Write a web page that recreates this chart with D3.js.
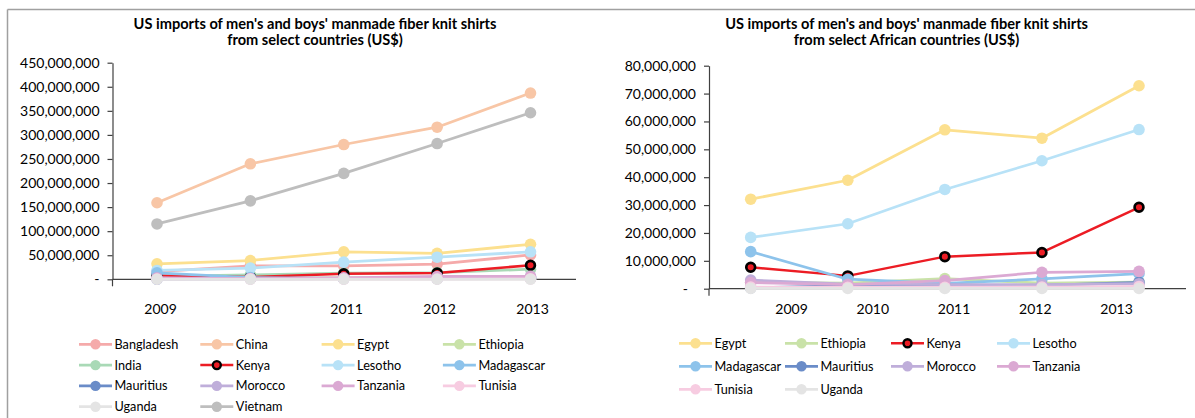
<!DOCTYPE html>
<html>
<head>
<meta charset="utf-8">
<script src="https://cdn.jsdelivr.net/npm/d3@7"></script>
<style>
  html, body { margin: 0; padding: 0; background: #fff; }
  svg { display: block; font-family: Lato, "Open Sans", sans-serif; }
</style>
</head>
<body>
<svg id="chart" width="1195" height="418"></svg>
<script>
// ---------- DATA ----------
const years = ["2009", "2010", "2011", "2012", "2013"];

const bangladesh = [16e6, 28e6, 28e6, 31.5e6, 50.5e6];
const china      = [159e6, 240e6, 280e6, 316e6, 387e6];
const egypt      = [32.1e6, 38.9e6, 57.0e6, 54.0e6, 72.8e6];
const ethiopia   = [2.3e6, 2.0e6, 3.6e6, 2.0e6, 2.4e6];
const india      = [6e6, 9e6, 13e6, 14e6, 21e6];
const kenya      = [7.7e6, 4.6e6, 11.5e6, 13.0e6, 29.2e6];
const lesotho    = [18.4e6, 23.3e6, 35.6e6, 45.9e6, 57.1e6];
const madagascar = [13.3e6, 3.4e6, 1.9e6, 3.5e6, 5.4e6];
const mauritius  = [0.3e6, 1.1e6, 1.3e6, 1.2e6, 2.3e6];
const morocco    = [3.1e6, 1.6e6, 1.5e6, 1.5e6, 1.8e6];
const tanzania   = [2.2e6, 1.5e6, 2.9e6, 5.9e6, 6.2e6];
const tunisia    = [0.6e6, 0.5e6, 0.5e6, 0.6e6, 0.8e6];
const uganda     = [0.1e6, 0.1e6, 0.1e6, 0.1e6, 0.1e6];
const vietnam    = [115e6, 163e6, 220e6, 282e6, 346e6];

const leftCountries  = ["Bangladesh","China","Egypt","Ethiopia","India","Kenya","Lesotho","Madagascar","Mauritius","Morocco","Tanzania","Tunisia","Uganda","Vietnam"];
const rightCountries = ["Egypt","Ethiopia","Kenya","Lesotho","Madagascar","Mauritius","Morocco","Tanzania","Tunisia","Uganda"];

const leftTicks  = [0, 50e6, 100e6, 150e6, 200e6, 250e6, 300e6, 350e6, 400e6, 450e6];
const rightTicks = [0, 10e6, 20e6, 30e6, 40e6, 50e6, 60e6, 70e6, 80e6];

const leftTitle  = ["US imports of men's and boys' manmade fiber knit shirts", "from select countries (US$)"];
const rightTitle = ["US imports of men's and boys' manmade fiber knit shirts", "from select African countries (US$)"];

// lookup table built from the arrays
const seriesValues = {
  Bangladesh: bangladesh, China: china, Egypt: egypt, Ethiopia: ethiopia, India: india,
  Kenya: kenya, Lesotho: lesotho, Madagascar: madagascar, Mauritius: mauritius,
  Morocco: morocco, Tanzania: tanzania, Tunisia: tunisia, Uganda: uganda, Vietnam: vietnam
};

const colors = {
  Bangladesh: "#F5AAAA", China: "#F8C6A6", Egypt: "#FCE08F", Ethiopia: "#C9E2A8",
  India: "#A9D9B6", Kenya: "#EC1C24", Lesotho: "#B8E2F7", Madagascar: "#8DC3EB",
  Mauritius: "#6A8CC8", Morocco: "#BFAEDA", Tanzania: "#DBA9D3", Tunisia: "#F7CCE1",
  Uganda: "#E4E4E4", Vietnam: "#BEBEBE"
};

// ---------- DRAW ----------
const svg = d3.select("#chart");

// outer frame (top + left)
svg.append("line").attr("x1", 7.5).attr("x2", 1195).attr("y1", 9.5).attr("y2", 9.5)
  .attr("stroke", "#a0a0a0").attr("stroke-width", 1.5);
svg.append("line").attr("x1", 7.5).attr("x2", 7.5).attr("y1", 9.5).attr("y2", 418)
  .attr("stroke", "#a0a0a0").attr("stroke-width", 1.5);

function drawChart(cfg) {
  const g = svg.append("g");
  const x = d3.scalePoint().domain(years).range(cfg.xRange);
  const xl = d3.scalePoint().domain(years).range(cfg.labelRange);
  const y = d3.scaleLinear().domain(cfg.yDomain).range(cfg.yRange);

  // title
  const t = g.append("text").attr("x", cfg.titleX).attr("y", 29)
    .attr("text-anchor", "middle").attr("font-weight", "bold")
    .attr("font-size", 14.6).attr("fill", "#000");
  cfg.title.forEach((line, i) => {
    t.append("tspan").attr("x", cfg.titleX).attr("dy", i === 0 ? 0 : 16).text(line);
  });

  // y axis
  const fmt = d3.format(",");
  const yAxis = d3.axisLeft(y).tickValues(cfg.ticks).tickSize(5).tickSizeOuter(0).tickPadding(8)
    .tickFormat(d => d === 0 ? "-" : fmt(d));
  const ya = g.append("g").attr("transform", `translate(${cfg.axisX},0)`).call(yAxis);
  ya.select(".domain").attr("stroke", "#404040").attr("stroke-width", 1.2);
  ya.selectAll(".tick line").attr("stroke", "#404040").attr("stroke-width", 1.2);
  ya.selectAll(".tick text").attr("font-size", 14).attr("fill", "#000")
    .attr("font-family", "Lato, sans-serif")
    .attr("dx", d => d === 0 ? cfg.zeroDx : 0);
  // axis line extends a little under the category axis
  g.append("line").attr("x1", cfg.axisX).attr("x2", cfg.axisX)
    .attr("y1", y(0)).attr("y2", y(0) + 7).attr("stroke", "#404040").attr("stroke-width", 1.2);

  // x axis line
  g.append("line").attr("x1", cfg.axisX).attr("x2", cfg.axisEnd)
    .attr("y1", y(0)).attr("y2", y(0)).attr("stroke", "#404040").attr("stroke-width", 1.2);

  // category labels
  const xAxis = d3.axisBottom(xl).tickSize(0).tickPadding(0);
  const xa = g.append("g").attr("transform", `translate(0,${cfg.labelY})`).call(xAxis);
  xa.select(".domain").remove();
  xa.selectAll(".tick text").attr("font-size", 14).attr("fill", "#000")
    .attr("font-family", "Lato, sans-serif").attr("dy", "0.35em");

  // series
  const line = d3.line().x((d, i) => x(years[i])).y(d => y(d));
  cfg.countries.forEach(name => {
    const vals = seriesValues[name];
    const sg = g.append("g");
    const isKenya = name === "Kenya";
    sg.append("path").datum(vals).attr("d", line).attr("fill", "none")
      .attr("stroke", colors[name]).attr("stroke-width", isKenya ? 2.5 : 2.75)
      .attr("stroke-linejoin", "round");
    sg.selectAll("circle").data(vals).join("circle")
      .attr("cx", (d, i) => x(years[i])).attr("cy", d => y(d))
      .attr("r", isKenya ? 4.4 : 5.8)
      .attr("fill", colors[name])
      .attr("stroke", isKenya ? "#000" : "none")
      .attr("stroke-width", isKenya ? 2.7 : 0);
  });

  // legend
  const lg = g.append("g");
  cfg.countries.forEach((name, i) => {
    const col = i % 4, row = Math.floor(i / 4);
    const lx = cfg.legendX + col * cfg.legendColW;
    const ly = cfg.legendY + row * cfg.legendRowH;
    const isKenya = name === "Kenya";
    lg.append("line").attr("x1", lx).attr("x2", lx + 33).attr("y1", ly).attr("y2", ly)
      .attr("stroke", colors[name]).attr("stroke-width", isKenya ? 2.5 : 2.75);
    lg.append("circle").attr("cx", lx + 16.5).attr("cy", ly)
      .attr("r", isKenya ? 4 : 5.2).attr("fill", colors[name])
      .attr("stroke", isKenya ? "#000" : "none").attr("stroke-width", isKenya ? 2.4 : 0);
    lg.append("text").attr("x", lx + 35.5).attr("y", ly).attr("dy", "0.36em")
      .attr("font-size", 12.7).attr("fill", "#000").text(name);
  });
}

drawChart({
  countries: leftCountries, title: leftTitle, titleX: 315,
  xRange: [157, 530.5], labelRange: [160, 532], labelY: 309,
  yDomain: [0, 450e6], yRange: [279.3, 62.7], ticks: leftTicks,
  axisX: 112.5, axisEnd: 576, zeroDx: 0,
  legendX: 79, legendColW: 121.3, legendY: 344.3, legendRowH: 20.8
});

drawChart({
  countries: rightCountries, title: rightTitle, titleX: 906.6,
  xRange: [750.7, 1139], labelRange: [791, 1116], labelY: 309,
  yDomain: [0, 80e6], yRange: [288.7, 65.7], ticks: rightTicks,
  axisX: 709, axisEnd: 1186, zeroDx: -8,
  legendX: 679, legendColW: 106, legendY: 343.3, legendRowH: 23
});
</script>
</body>
</html>
